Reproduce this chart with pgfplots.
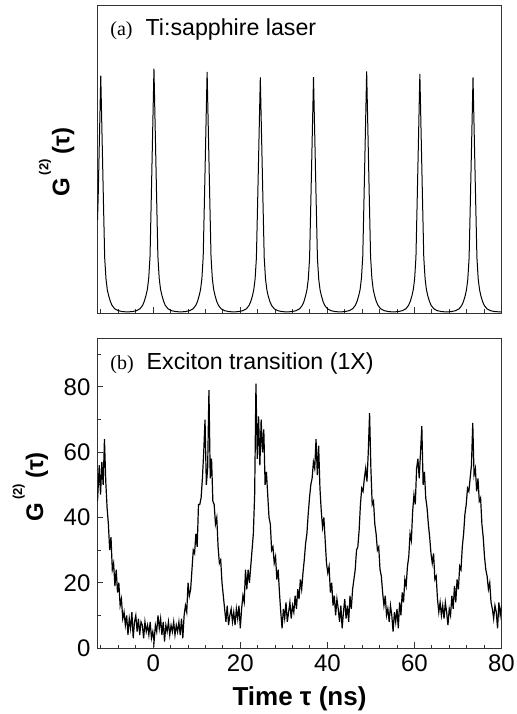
\documentclass[border=0pt]{standalone}
\usepackage{fontspec}
\setmainfont{Liberation Sans}
\newfontfamily\panelserif{Liberation Serif}
\usepackage{pgfplots}
\pgfplotsset{compat=1.18}

\pgfplotsset{
  g2 panel/.style={
    scale only axis,
    width=202pt,
    xmin=-12.8, xmax=80,
    tick pos=left,
    tick align=inside,
    xtick={0,20,40,60,80},
    minor xtick={-12,-8,...,76},
    major tick length=3pt,
    minor tick length=1.75pt,
    axis line style={black!80, line width=0.5pt},
    tick style={black!80, line width=0.5pt},
    minor tick style={black!80, line width=0.5pt},
    tick label style={font=\fontsize{12}{14}\selectfont},
    /pgf/number format/assume math mode=true,
    label style={font=\fontsize{12}{14}\selectfont\bfseries},
  },
}
\newcommand{\panelnote}[2]{{\fontsize{10}{12}\panelserif\selectfont #1}\hspace{6.5pt}{\fontsize{11.6}{13}\selectfont #2}}
\newcommand{\gtwo}{G\hspace{1.5pt}\raisebox{10.5pt}{\fontsize{6.5}{7}\selectfont(2)}\hspace{2.5pt}(τ)}

\begin{document}
\begin{tikzpicture}
\path[use as bounding box] (-48.75pt,-33pt) rectangle (209.25pt,324pt);

% (a) laser pulses
\begin{axis}[
  g2 panel,
  at={(0pt,167.5pt)}, anchor=south west,
  height=154pt,
  ymin=-0.3, ymax=100,
  ytick=\empty,
  xticklabels={},
  ylabel={\gtwo},
  ylabel style={at={(axis description cs:-0.101,0.49)}, anchor=center},
]
\addplot[black, line width=0.5pt] coordinates {
(-12.8,30) (-12.65,37) (-12.35,57.0) (-12.05,77.0) (-11.75,57.0) (-11.45,37.0)
(-11.15,17.7) (-10.85,10.8) (-10.55,7.3) (-10.25,5.4) (-9.85,3.5) (-9.45,2.16)
(-8.85,1.08) (-8.05,0.46) (-7.05,0.15) (-5.94,0.05)
(-4.83,0.16) (-3.83,0.47) (-3.03,1.1) (-2.43,2.2) (-2.03,3.6) (-1.63,5.6)
(-1.33,7.5) (-1.03,11.1) (-0.73,18.2) (-0.43,38.1) (-0.13,58.7) (0.17,79.3)
(0.47,58.7) (0.77,38.1) (1.07,18.2) (1.37,11.1) (1.67,7.5) (1.97,5.6)
(2.37,3.6) (2.77,2.2) (3.37,1.1) (4.17,0.47) (5.17,0.16) (6.28,0.05)
(7.38,0.16) (8.38,0.47) (9.18,1.1) (9.78,2.2) (10.18,3.5) (10.58,5.5)
(10.88,7.4) (11.18,10.9) (11.48,18.0) (11.78,37.5) (12.08,57.9) (12.38,78.2)
(12.68,57.9) (12.98,37.5) (13.28,18.0) (13.58,10.9) (13.88,7.4) (14.18,5.5)
(14.58,3.5) (14.98,2.2) (15.58,1.1) (16.38,0.47) (17.38,0.16) (18.49,0.05)
(19.6,0.15) (20.6,0.46) (21.4,1.07) (22.0,2.14) (22.4,3.4) (22.8,5.3)
(23.1,7.3) (23.4,10.7) (23.7,17.6) (24.0,36.7) (24.3,56.5) (24.6,76.4)
(24.9,56.5) (25.2,36.7) (25.5,17.6) (25.8,10.7) (26.1,7.3) (26.4,5.3)
(26.8,3.4) (27.2,2.14) (27.8,1.07) (28.6,0.46) (29.6,0.15) (30.71,0.05)
(31.82,0.15) (32.82,0.46) (33.62,1.07) (34.22,2.14) (34.62,3.4) (35.02,5.4)
(35.32,7.3) (35.62,10.7) (35.92,17.6) (36.22,36.7) (36.52,56.6) (36.82,76.5)
(37.12,56.6) (37.42,36.7) (37.72,17.6) (38.02,10.7) (38.32,7.3) (38.62,5.4)
(39.02,3.4) (39.42,2.14) (40.02,1.07) (40.82,0.46) (41.82,0.15) (42.93,0.05)
(44.03,0.16) (45.03,0.47) (45.83,1.1) (46.43,2.2) (46.83,3.5) (47.23,5.5)
(47.53,7.4) (47.83,11.0) (48.13,18.0) (48.43,37.6) (48.73,58.0) (49.03,78.4)
(49.33,58.0) (49.63,37.6) (49.93,18.0) (50.23,11.0) (50.53,7.4) (50.83,5.5)
(51.23,3.5) (51.63,2.2) (52.23,1.1) (53.03,0.47) (54.03,0.16) (55.14,0.05)
(56.25,0.16) (57.25,0.47) (58.05,1.09) (58.65,2.17) (59.05,3.5) (59.45,5.4)
(59.75,7.4) (60.05,10.9) (60.35,17.8) (60.65,37.2) (60.95,57.4) (61.25,77.6)
(61.55,57.4) (61.85,37.2) (62.15,17.8) (62.45,10.9) (62.75,7.4) (63.05,5.4)
(63.45,3.5) (63.85,2.17) (64.45,1.09) (65.25,0.47) (66.25,0.16) (67.36,0.05)
(68.46,0.15) (69.46,0.46) (70.26,1.07) (70.86,2.14) (71.26,3.4) (71.66,5.3)
(71.96,7.3) (72.26,10.7) (72.56,17.6) (72.86,36.7) (73.16,56.5) (73.46,76.4)
(73.76,56.5) (74.06,36.7) (74.36,17.6) (74.66,10.7) (74.96,7.3) (75.26,5.3)
(75.66,3.4) (76.06,2.14) (76.66,1.07) (77.46,0.46) (78.46,0.15) (80,0.05)
};
\node[anchor=west, inner sep=0pt] at (axis description cs:0.031,0.919) {\panelnote{(a)}{Ti:sapphire laser}};
\end{axis}

% (b) exciton line
\begin{axis}[
  g2 panel,
  at={(0pt,0pt)}, anchor=south west,
  height=155pt,
  ymin=0, ymax=95,
  ytick={0,20,40,60,80},
  minor ytick={10,30,50,70,90},
  xlabel={Time τ (ns)},
  xlabel style={at={(axis description cs:0.5,-0.165)}, anchor=center, font=\fontsize{13}{15}\selectfont\bfseries},
  ylabel={\gtwo},
  ylabel style={at={(axis description cs:-0.166,0.52)}, anchor=center},
]
\addplot[black, line width=0.6pt] table {
x y
-12.8 45
-12.4 56
-12.1 47
-11.8 57
-11.5 50
-11.2 64
-10.9 51
-10.6 43
-10.3 38
-10.0 30
-9.7 34
-9.4 24
-9.1 26
-8.8 19
-8.5 24
-8.2 17
-7.9 20
-7.6 13
-7.3 15
-7.0 9
-6.7 11
-6.4 7
-6.1 10
-5.8 4
-5.5 9
-5.2 6
-4.9 11
-4.6 3
-4.3 8
-4.0 10
-3.7 5
-3.4 9
-3.1 4
-2.8 8
-2.5 7
-2.2 3
-1.9 8
-1.6 5
-1.3 7
-1.0 4
-0.7 8
-0.4 3
-0.1 5
0.2 2
0.5 7
0.8 5
1.1 10
1.4 6
1.7 9
2.0 4
2.3 8
2.6 2
2.9 7
3.2 5
3.5 8
3.8 4
4.1 7
4.4 5
4.7 8
5.0 4
5.3 7
5.6 5
5.9 8
6.2 4
6.5 9
6.8 3
7.1 10
7.4 13
7.7 11
8.0 20
8.3 16
8.6 18
8.9 24
9.2 30
9.5 29
9.8 35
10.1 31
10.4 44
10.7 44
11.0 46
11.3 52
11.6 60
11.9 70
12.2 50
12.5 55
12.8 79
13.1 52
13.4 58
13.7 45
14.0 44
14.3 38
14.6 40
14.9 31
15.2 26
15.5 27
15.8 20
16.1 16
16.4 12
16.7 8
17.0 13
17.3 7
17.6 10
17.9 12
18.2 8
18.5 11
18.8 7
19.1 12
19.4 9
19.7 13
20.0 6
20.3 12
20.6 16
20.9 14
21.2 24
21.5 18
21.8 24
22.1 20
22.4 25
22.7 30
23.0 35
23.3 47
23.6 81
23.9 58
24.2 71
24.5 56
24.8 70
25.1 60
25.4 67
25.7 50
26.0 54
26.3 47
26.6 40
26.9 38
27.2 30
27.5 31
27.8 26
28.1 28
28.4 21
28.7 24
29.0 17
29.3 11
29.6 6
29.9 12
30.2 9
30.5 14
30.8 8
31.1 11
31.4 14
31.7 9
32.0 13
32.3 11
32.6 16
32.9 12
33.2 18
33.5 15
33.8 21
34.1 18
34.4 23
34.7 27
35.0 32
35.3 35
35.6 41
35.9 46
36.2 50
36.5 52
36.8 57
37.1 55
37.4 64
37.7 53
38.0 62
38.3 49
38.6 42
38.9 37
39.2 40
39.5 33
39.8 26
40.1 23
40.4 25
40.7 17
41.0 20
41.3 13
41.6 16
41.9 10
42.2 15
42.5 12
42.8 8
43.1 13
43.4 6
43.7 11
44.0 15
44.3 9
44.6 13
44.9 8
45.2 16
45.5 12
45.8 18
46.1 21
46.4 24
46.7 30
47.0 31
47.3 36
47.6 44
47.9 49
48.2 48
48.5 52
48.8 55
49.1 51
49.4 60
49.7 72
50.0 55
50.3 44
50.6 45
50.9 38
51.2 35
51.5 30
51.8 31
52.1 24
52.4 22
52.7 17
53.0 13
53.3 16
53.6 10
53.9 12
54.2 8
54.5 13
54.8 10
55.1 5
55.4 11
55.7 8
56.0 12
56.3 6
56.6 14
56.9 10
57.2 17
57.5 14
57.8 21
58.1 19
58.4 25
58.7 28
59.0 35
59.3 33
59.6 42
59.9 47
60.2 44
60.5 55
60.8 58
61.1 52
61.4 60
61.7 68
62.0 50
62.3 54
62.6 46
62.9 43
63.2 38
63.5 34
63.8 29
64.1 26
64.4 29
64.7 21
65.0 22
65.3 15
65.6 11
65.9 14
66.2 10
66.5 13
66.8 9
67.1 14
67.4 11
67.7 7
68.0 12
68.3 10
68.6 16
68.9 12
69.2 19
69.5 14
69.8 21
70.1 18
70.4 25
70.7 24
71.0 31
71.3 35
71.6 41
71.9 44
72.2 49
72.5 48
72.8 52
73.1 56
73.4 69
73.7 53
74.0 55
74.3 48
74.6 52
74.9 45
75.2 46
75.5 38
75.8 34
76.1 28
76.4 24
76.7 22
77.0 18
77.3 20
77.6 14
77.9 12
78.2 9
78.5 13
78.8 11
79.1 6
79.4 14
79.7 10
80.0 13
};
\node[anchor=west, inner sep=0pt] at (axis description cs:0.031,0.919) {\panelnote{(b)}{Exciton transition (1X)}};
\end{axis}
\end{tikzpicture}
\end{document}
